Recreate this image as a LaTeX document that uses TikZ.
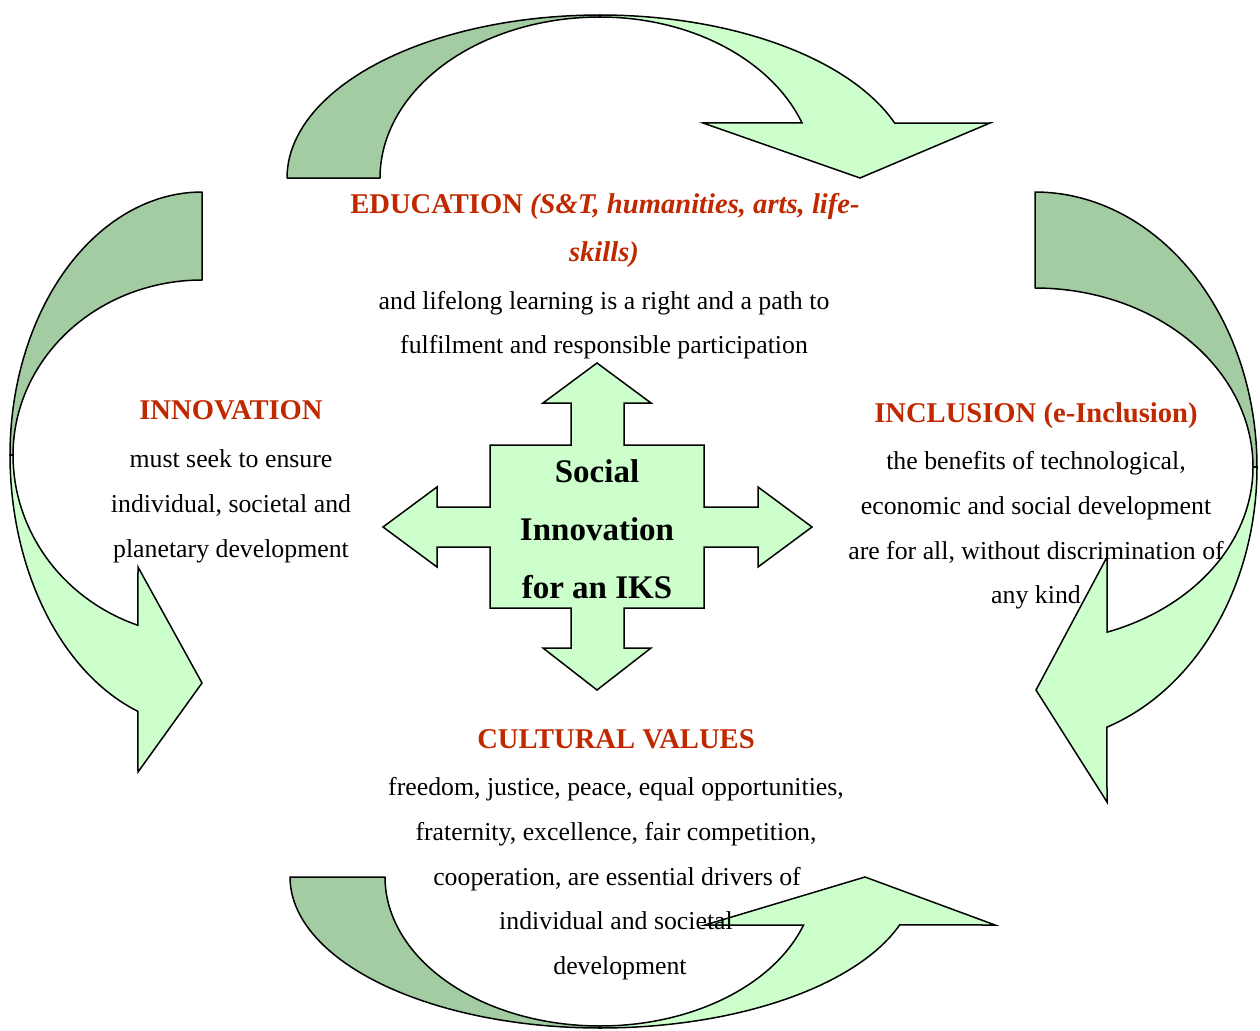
\documentclass[tikz,border=0pt]{standalone}
\usepackage{fontspec}
\setmainfont{Liberation Serif}
\definecolor{darkgr}{RGB}{163,204,163}
\definecolor{lightgr}{RGB}{204,255,204}
\definecolor{headred}{RGB}{192,40,0}
\begin{document}
\begin{tikzpicture}[x=1pt,y=-1pt,
  darkband/.style={fill=darkgr,draw=black,line width=1.5pt,line join=round},
  lightband/.style={fill=lightgr,draw=black,line width=1.5pt,line join=miter},
  body/.style={anchor=base,font=\fontsize{25.8}{30}\selectfont,inner sep=0pt},
  head/.style={anchor=base,font=\fontsize{28.6}{32}\selectfont\bfseries,text=headred,inner sep=0pt},
  ctext/.style={anchor=base,font=\fontsize{33}{38}\selectfont\bfseries,inner sep=0pt}]
\useasboundingbox (0,0) rectangle (1260,1030);

% ---- top curved arrow
\draw[darkband] (287,178)
  -- plot[domain=180:90,samples=50,variable=\t] ({600+313*cos(\t)},{178-163*sin(\t)})
  -- plot[domain=90:180,samples=50,variable=\t] ({600+220*cos(\t)},{178-161*sin(\t)})
  -- cycle;
\draw[lightband]
  plot[domain=90:19.7,samples=50,variable=\t] ({600+313*cos(\t)},{178-163*sin(\t)})
  -- (990,123) -- (860,178) -- (703,123)
  -- plot[domain=20:90,samples=50,variable=\t] ({600+215*cos(\t)},{178-161*sin(\t)})
  -- cycle;

% ---- right curved arrow
\draw[darkband] (1035,192)
  -- plot[domain=90:0,samples=50,variable=\t] ({1035+222*cos(\t)},{467-275*sin(\t)})
  -- plot[domain=0:90,samples=50,variable=\t] ({1035+218*cos(\t)},{467-179*sin(\t)})
  -- cycle;
\draw[lightband]
  plot[domain=0:-71.1,samples=50,variable=\t] ({1035+222*cos(\t)},{467-275*sin(\t)})
  -- (1107,802) -- (1036,690) -- (1107,557)
  -- plot[domain=-70.7:0,samples=50,variable=\t] ({1035+218*cos(\t)},{467-175*sin(\t)})
  -- cycle;

% ---- left curved arrow
\draw[darkband] (202,192)
  -- plot[domain=90:180,samples=50,variable=\t] ({202+192*cos(\t)},{455-263*sin(\t)})
  -- plot[domain=180:90,samples=50,variable=\t] ({202+189*cos(\t)},{455-175*sin(\t)})
  -- cycle;
\draw[lightband]
  plot[domain=180:250.5,samples=50,variable=\t] ({202+192*cos(\t)},{455-272*sin(\t)})
  -- (138,772) -- (202,683) -- (138,567)
  -- plot[domain=250.2:180,samples=50,variable=\t] ({202+189*cos(\t)},{455-181*sin(\t)})
  -- cycle;

% ---- bottom curved arrow
\draw[darkband] (290,877)
  -- plot[domain=180:270,samples=50,variable=\t] ({600+310*cos(\t)},{877-151*sin(\t)})
  -- plot[domain=270:180,samples=50,variable=\t] ({600+215*cos(\t)},{877-149*sin(\t)})
  -- cycle;
\draw[lightband]
  plot[domain=270:341.5,samples=50,variable=\t] ({600+316*cos(\t)},{877-151*sin(\t)})
  -- (995,925) -- (865,877) -- (705,925)
  -- plot[domain=341.2:270,samples=50,variable=\t] ({600+215*cos(\t)},{877-149*sin(\t)})
  -- cycle;

% ---- central four-way arrow
\draw[lightband] (597,363) -- (651,403) -- (624,403) -- (624,445) -- (704,445)
  -- (704,507) -- (758,507) -- (758,487) -- (812,527) -- (758,567) -- (758,547)
  -- (704,547) -- (704,608) -- (624,608) -- (624,648) -- (651,648) -- (597,690)
  -- (543,648) -- (571,648) -- (571,608) -- (490,608) -- (490,547) -- (437,547)
  -- (437,567) -- (383,527) -- (437,487) -- (437,507) -- (490,507) -- (490,445)
  -- (571,445) -- (571,403) -- (543,403) -- cycle;
\node[ctext] (c1) at (597,482) {Social};
\node[ctext] (c2) at (597,540) {Innovation};
\node[ctext] (c3) at (597,598) {for an IKS};

% ---- education
\node[head] (e1) at (605,213) {EDUCATION \textit{(S\&T, humanities, arts, life-}};
\node[head] (e2) at (604,261) {\textit{skills)}};
\node[body] (e3) at (604,309) {and lifelong learning is a right and a path to};
\node[body] (e4) at (604,353) {fulfilment and responsible participation};

% ---- innovation
\node[head] (n1) at (231,419) {INNOVATION};
\node[body] (n2) at (231,467) {must seek to ensure};
\node[body] (n3) at (231,512) {individual, societal and};
\node[body] (n4) at (231,557) {planetary development};

% ---- inclusion
\node[head] (i1) at (1036,422) {INCLUSION (e-Inclusion)};
\node[body] (i2) at (1036,469) {the benefits of technological,};
\node[body] (i3) at (1036,514) {economic and social development};
\node[body] (i4) at (1036,559) {are for all, without discrimination of};
\node[body] (i5) at (1036,603) {any kind};

% ---- cultural values
\node[head] (v1) at (616,748) {CULTURAL VALUES};
\node[body] (v2) at (616,795) {freedom, justice, peace, equal opportunities,};
\node[body] (v3) at (616,840) {fraternity, excellence, fair competition,};
\node[body] (v4) at (617,885) {cooperation, are essential drivers of};
\node[body] (v5) at (616,929) {individual and societal};
\node[body] (v6) at (620,974) {development};
\end{tikzpicture}
\end{document}
